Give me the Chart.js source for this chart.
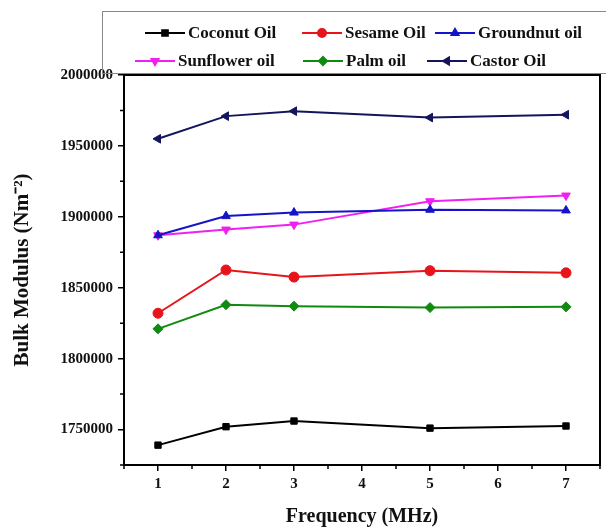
<!DOCTYPE html>
<html>
<head>
<meta charset="utf-8">
<script src="https://cdn.jsdelivr.net/npm/chart.js@4"></script>
<style>
  html, body { margin: 0; padding: 0; background: #fff; }
</style>
</head>
<body>
<canvas id="bulk-chart" width="606" height="529"></canvas>
<script>
// frequencies (MHz) and bulk modulus (N m^-2)
const freqs = [1, 2, 3, 5, 7];
const coconutOil = [1739000, 1752000, 1756000, 1751000, 1752500];
const sesameOil = [1832000, 1862500, 1857500, 1862000, 1860500];
const groundnutOil = [1887000, 1900500, 1903000, 1905000, 1904500];
const sunflowerOil = [1887000, 1891000, 1894500, 1911000, 1915000];
const palmOil = [1821000, 1838000, 1837000, 1836000, 1836500];
const castorOil = [1955000, 1971000, 1974500, 1970000, 1972000];

const xTicks = [1, 2, 3, 4, 5, 6, 7];
const yTicks = [1750000, 1800000, 1850000, 1900000, 1950000, 2000000];

const serif = "'Liberation Serif', 'Times New Roman', serif";

function series(label, values, color, style, rot) {
  return {
    label: label,
    data: freqs.map((f, i) => ({ x: f, y: values[i] })),
    borderColor: color,
    backgroundColor: color,
    pointBackgroundColor: color,
    pointBorderColor: color,
    pointStyle: style,
    pointRotation: rot || 0,
    pointRadius: style === 'rect' ? 4.5 : 5,
    pointBorderWidth: 1,
    borderWidth: 2,
    tension: 0
  };
}

// legend slots: [x start of line, row y]
const legendSlots = [
  [145, 33], [302, 33], [435, 33],
  [135, 61], [303, 61], [427, 61]
];

const boxLegend = {
  id: 'boxLegend',
  afterDraw(chart) {
    const ctx = chart.ctx;
    ctx.save();
    ctx.strokeStyle = '#888';
    ctx.lineWidth = 1;
    ctx.strokeRect(102.5, 11.5, 520, 62);
    ctx.font = 'bold 17px ' + serif;
    ctx.textBaseline = 'middle';
    ctx.textAlign = 'left';
    chart.data.datasets.forEach((ds, i) => {
      const [x, y] = legendSlots[i];
      const len = 40;
      ctx.strokeStyle = ds.borderColor;
      ctx.fillStyle = ds.borderColor;
      ctx.lineWidth = 2;
      ctx.beginPath();
      ctx.moveTo(x, y);
      ctx.lineTo(x + len, y);
      ctx.stroke();
      if (Chart.helpers && Chart.helpers.drawPoint) {
        Chart.helpers.drawPoint(ctx, {
          pointStyle: ds.pointStyle,
          rotation: ds.pointRotation,
          radius: 4,
          borderWidth: 1
        }, x + len / 2, y);
      }
      ctx.fillStyle = '#111';
      ctx.fillText(ds.label, x + len + 3, y + 1);
    });
    ctx.restore();
  }
};

const frameAndMinor = {
  id: 'frameAndMinor',
  afterDraw(chart) {
    const { ctx, chartArea: a, scales } = chart;
    ctx.save();
    ctx.strokeStyle = '#000';
    ctx.lineWidth = 2;
    ctx.strokeRect(a.left, a.top, a.right - a.left, a.bottom - a.top);
    ctx.lineWidth = 1.5;
    ctx.beginPath();
    for (let v = 0.5; v <= 7.5; v += 1) {
      const px = scales.x.getPixelForValue(v);
      ctx.moveTo(px, a.bottom);
      ctx.lineTo(px, a.bottom + 4);
    }
    for (let v = 1725000; v <= 2000000; v += 50000) {
      const py = scales.y.getPixelForValue(v);
      ctx.moveTo(a.left, py);
      ctx.lineTo(a.left - 4, py);
    }
    ctx.stroke();
    ctx.restore();
  }
};

new Chart(document.getElementById('bulk-chart'), {
  type: 'line',
  data: {
    datasets: [
      series('Coconut Oil', coconutOil, '#000000', 'rect'),
      series('Sesame Oil', sesameOil, '#e8141b', 'circle'),
      series('Groundnut oil', groundnutOil, '#1414c8', 'triangle'),
      series('Sunflower oil', sunflowerOil, '#f020f0', 'triangle', 180),
      series('Palm oil', palmOil, '#118a11', 'rectRot'),
      series('Castor Oil', castorOil, '#15155e', 'triangle', -90)
    ]
  },
  options: {
    responsive: false,
    animation: false,
    layout: { padding: { top: 75, right: 4, left: 0, bottom: 0 } },
    plugins: {
      legend: { display: false },
      tooltip: { enabled: false }
    },
    scales: {
      x: {
        type: 'linear',
        min: 0.5,
        max: 7.5,
        afterBuildTicks: (scale) => { scale.ticks = xTicks.map(v => ({ value: v })); },
        afterFit: (scale) => { scale.height = 64; },
        grid: { drawOnChartArea: false, drawTicks: true, tickLength: 6, color: '#000', lineWidth: 1.5 },
        border: { display: true, color: '#000', width: 2 },
        ticks: { color: '#111', font: { family: serif, size: 15, weight: 'bold' }, padding: 4, maxRotation: 0 },
        title: {
          display: true,
          text: 'Frequency (MHz)',
          color: '#111',
          font: { family: serif, size: 20, weight: 'bold' },
          padding: { top: 0, bottom: 0 }
        }
      },
      y: {
        type: 'linear',
        min: 1725000,
        max: 2000000,
        afterBuildTicks: (scale) => { scale.ticks = yTicks.map(v => ({ value: v })); },
        afterFit: (scale) => { scale.width = 124; },
        grid: { drawOnChartArea: false, drawTicks: true, tickLength: 6, color: '#000', lineWidth: 1.5 },
        border: { display: true, color: '#000', width: 2 },
        ticks: {
          color: '#111',
          font: { family: serif, size: 15, weight: 'bold' },
          padding: 5,
          callback: (v) => String(v)
        },
        title: {
          display: true,
          text: 'Bulk Modulus (Nm⁻²)',
          color: '#111',
          font: { family: serif, size: 21, weight: 'bold' },
          padding: { top: 10, bottom: 0 }
        }
      }
    }
  },
  plugins: [boxLegend, frameAndMinor]
});
</script>
</body>
</html>
